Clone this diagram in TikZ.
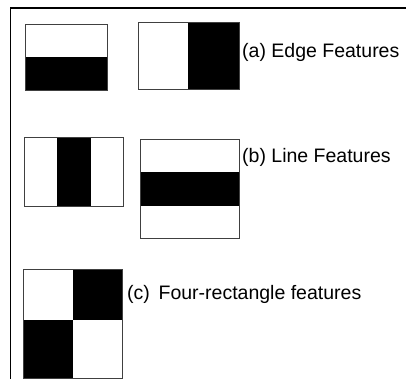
\documentclass[tikz,border=0pt]{standalone}
\usepackage{fontspec}
\setmainfont{Liberation Sans}
\tikzset{
  cell/.style={draw=black!75, line width=0.8pt},
  dark/.style={fill=black},
  caption/.style={anchor=base west, inner sep=0pt, font=\fontsize{19.5}{22}\selectfont}
}
\begin{document}
\begin{tikzpicture}[x=1pt,y=-1pt]
    \useasboundingbox (0,0) rectangle (406,379);

    % Frame on the top and left
    \draw[line width=1.2pt] (406,8) -- (10.5,8) -- (10.5,379);

    % (a) Edge features
    \fill[dark] (25,57) rectangle (107,90);
    \draw[cell] (25,24) rectangle (107,90);
    \fill[dark] (188,22) rectangle (239,89);
    \draw[cell] (138,22) rectangle (239,89);
    \node[caption] (edge) at (242,58) {(a) Edge Features};

    % (b) Line features
    \fill[dark] (57,137) rectangle (91,206);
    \draw[cell] (24,137) rectangle (123,206);
    \fill[dark] (140,172) rectangle (239,206);
    \draw[cell] (140,139) rectangle (239,238);
    \node[caption] (line) at (242,163) {(b) Line Features};

    % (c) Four-rectangle features
    \fill[dark] (73,269) rectangle (122,320);
    \fill[dark] (23,320) rectangle (73,378);
    \draw[cell] (23,269) rectangle (122,378);
    \node[caption] (four) at (127,299) {(c)\, Four-rectangle features};
\end{tikzpicture}
\end{document}
